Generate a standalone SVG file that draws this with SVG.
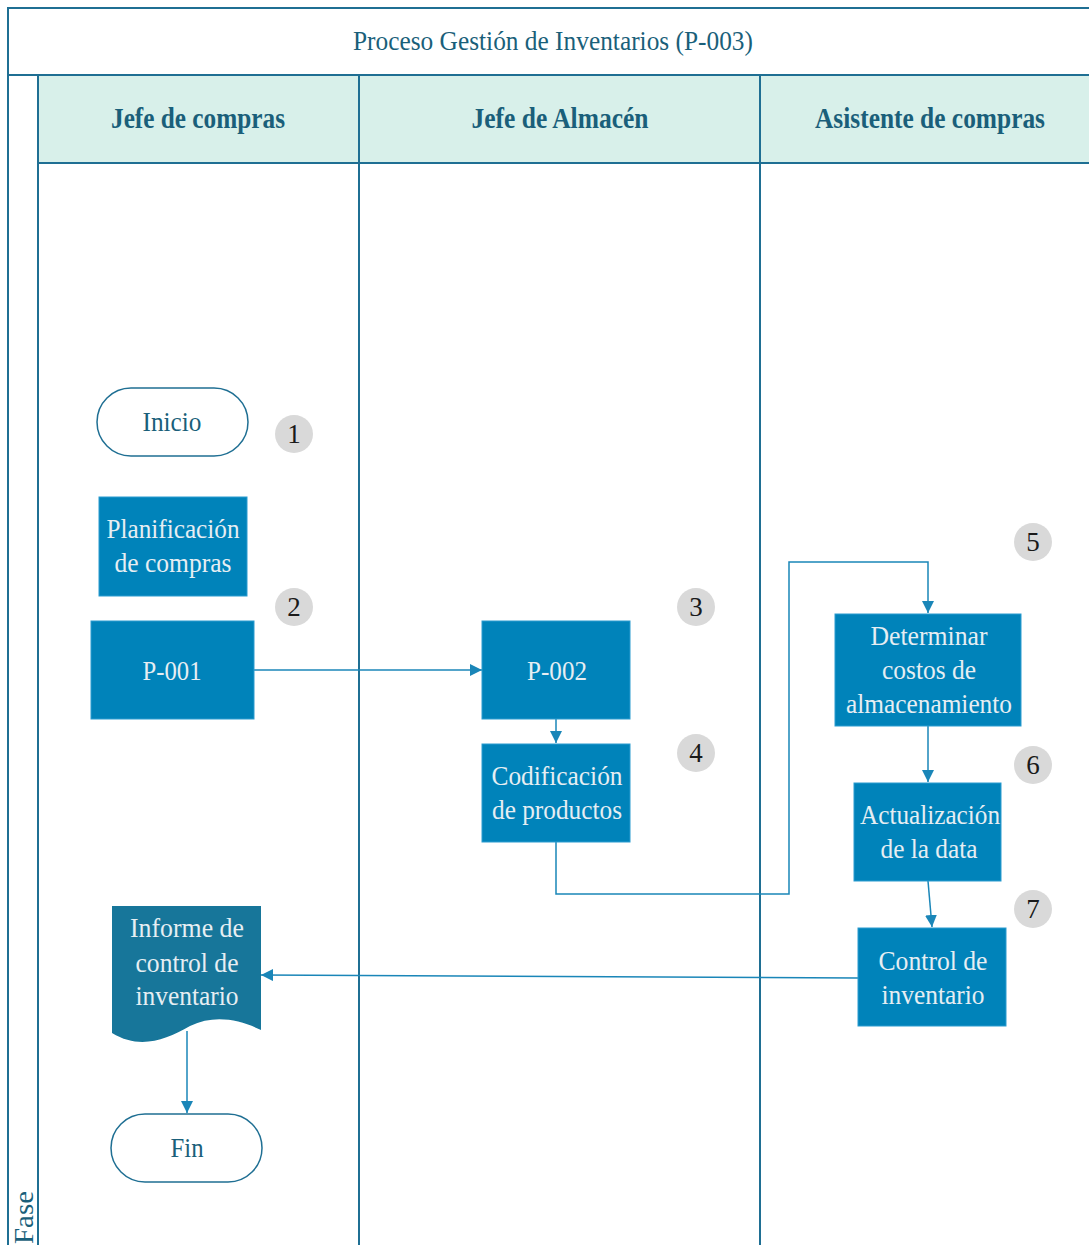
<svg xmlns="http://www.w3.org/2000/svg" width="1089" height="1245" viewBox="0 0 1089 1245">
  <defs>
    <marker id="arrow" viewBox="0 0 10 10" refX="10" refY="5" markerWidth="12" markerHeight="12" markerUnits="userSpaceOnUse" orient="auto">
      <path d="M0,0 L10,5 L0,10 z" fill="#1a86b8"/>
    </marker>
    <style>
      .frame { fill: none; stroke: #1f6f93; stroke-width: 2; }
      .head { fill: #d8f0ea; stroke: #1f6f93; stroke-width: 2; }
      .title { font-family: "Liberation Serif", serif; font-size: 28px; fill: #1a5f7a; text-anchor: middle; }
      .lane { font-family: "Liberation Serif", serif; font-size: 29px; font-weight: bold; fill: #1a5f7a; text-anchor: middle; }
      .proc { fill: #0083ba; stroke: #2a9bd0; stroke-width: 1; }
      .doc { fill: #17769a; }
      .term { fill: #ffffff; stroke: #1f6f93; stroke-width: 1.5; }
      .ptxt { font-family: "Liberation Serif", serif; font-size: 28px; fill: #e6eef3; text-anchor: middle; }
      .ttxt { font-family: "Liberation Serif", serif; font-size: 28px; fill: #1a5f7a; text-anchor: middle; }
      .badge { fill: #d9d9d9; }
      .btxt { font-family: "Liberation Serif", serif; font-size: 27px; fill: #1a1a1a; text-anchor: middle; }
      .conn { fill: none; stroke: #1a86b8; stroke-width: 1.5; }
    </style>
  </defs>

  <rect width="1089" height="1245" fill="#ffffff"/>

  <!-- Pool frame, title and lanes -->
  <g id="pool">
    <path class="frame" d="M8,1245 V8 H1089"/>
    <line class="frame" x1="8" y1="75" x2="1089" y2="75"/>
    <text class="title" x="553" y="50" textLength="400" lengthAdjust="spacingAndGlyphs">Proceso Gestión de Inventarios (P-003)</text>
    <rect class="head" x="38" y="75" width="1060" height="88"/>
    <line class="frame" x1="38" y1="75" x2="38" y2="1245"/>
    <line class="frame" x1="359" y1="75" x2="359" y2="1245"/>
    <line class="frame" x1="760" y1="75" x2="760" y2="1245"/>
    <text class="lane" x="198" y="128" textLength="174" lengthAdjust="spacingAndGlyphs">Jefe de compras</text>
    <text class="lane" x="560" y="128" textLength="177" lengthAdjust="spacingAndGlyphs">Jefe de Almacén</text>
    <text class="lane" x="930" y="128" textLength="230" lengthAdjust="spacingAndGlyphs">Asistente de compras</text>
    <text class="title" transform="translate(33,1244) rotate(-90)" style="text-anchor:start" textLength="53" lengthAdjust="spacingAndGlyphs">Fase</text>
  </g>

  <!-- Connectors -->
  <g id="connectors">
    <line class="conn" x1="254" y1="670" x2="482" y2="670" marker-end="url(#arrow)"/>
    <line class="conn" x1="556" y1="719" x2="556" y2="743" marker-end="url(#arrow)"/>
    <polyline class="conn" points="556,842 556,894 789,894 789,562 928,562 928,613" marker-end="url(#arrow)"/>
    <line class="conn" x1="928" y1="726" x2="928" y2="782" marker-end="url(#arrow)"/>
    <line class="conn" x1="928" y1="881" x2="932" y2="927" marker-end="url(#arrow)"/>
    <line class="conn" x1="858" y1="978" x2="261" y2="975" marker-end="url(#arrow)"/>
    <line class="conn" x1="187" y1="1031" x2="187" y2="1113" marker-end="url(#arrow)"/>
  </g>

  <!-- Nodes -->
  <g id="inicio">
    <rect class="term" x="97" y="388" width="151" height="68" rx="34"/>
    <text class="ttxt" x="172" y="431" textLength="59" lengthAdjust="spacingAndGlyphs">Inicio</text>
  </g>
  <g id="badge1"><circle class="badge" cx="294" cy="434" r="19"/><text class="btxt" x="294" y="443">1</text></g>

  <g id="planificacion">
    <rect class="proc" x="99" y="497" width="148" height="99"/>
    <text class="ptxt" x="173" y="538" textLength="133" lengthAdjust="spacingAndGlyphs">Planificación</text>
    <text class="ptxt" x="173" y="572" textLength="117" lengthAdjust="spacingAndGlyphs">de compras</text>
  </g>
  <g id="badge2"><circle class="badge" cx="294" cy="607" r="19"/><text class="btxt" x="294" y="616">2</text></g>

  <g id="p001">
    <rect class="proc" x="91" y="621" width="163" height="98"/>
    <text class="ptxt" x="172" y="680" textLength="59" lengthAdjust="spacingAndGlyphs">P-001</text>
  </g>

  <g id="p002">
    <rect class="proc" x="482" y="621" width="148" height="98"/>
    <text class="ptxt" x="557" y="680" textLength="60" lengthAdjust="spacingAndGlyphs">P-002</text>
  </g>
  <g id="badge3"><circle class="badge" cx="696" cy="607" r="19"/><text class="btxt" x="696" y="616">3</text></g>

  <g id="codificacion">
    <rect class="proc" x="482" y="744" width="148" height="98"/>
    <text class="ptxt" x="557" y="785" textLength="131" lengthAdjust="spacingAndGlyphs">Codificación</text>
    <text class="ptxt" x="557" y="819" textLength="130" lengthAdjust="spacingAndGlyphs">de productos</text>
  </g>
  <g id="badge4"><circle class="badge" cx="696" cy="753" r="19"/><text class="btxt" x="696" y="762">4</text></g>

  <g id="badge5"><circle class="badge" cx="1033" cy="542" r="19"/><text class="btxt" x="1033" y="551">5</text></g>
  <g id="determinar">
    <rect class="proc" x="835" y="614" width="186" height="112"/>
    <text class="ptxt" x="929" y="645" textLength="117" lengthAdjust="spacingAndGlyphs">Determinar</text>
    <text class="ptxt" x="929" y="679" textLength="94" lengthAdjust="spacingAndGlyphs">costos de</text>
    <text class="ptxt" x="929" y="713" textLength="166" lengthAdjust="spacingAndGlyphs">almacenamiento</text>
  </g>

  <g id="badge6"><circle class="badge" cx="1033" cy="765" r="19"/><text class="btxt" x="1033" y="774">6</text></g>
  <g id="actualizacion">
    <rect class="proc" x="854" y="783" width="147" height="98"/>
    <text class="ptxt" x="930" y="824" textLength="140" lengthAdjust="spacingAndGlyphs">Actualización</text>
    <text class="ptxt" x="929" y="858" textLength="97" lengthAdjust="spacingAndGlyphs">de la data</text>
  </g>

  <g id="badge7"><circle class="badge" cx="1033" cy="909" r="19"/><text class="btxt" x="1033" y="918">7</text></g>
  <g id="control">
    <rect class="proc" x="858" y="928" width="148" height="98"/>
    <text class="ptxt" x="933" y="970" textLength="109" lengthAdjust="spacingAndGlyphs">Control de</text>
    <text class="ptxt" x="933" y="1004" textLength="103" lengthAdjust="spacingAndGlyphs">inventario</text>
  </g>

  <g id="informe">
    <path class="doc" d="M112,906 H261 V1030 C240,1020 215,1014 190,1026 C165,1040 140,1050 112,1033 Z"/>
    <text class="ptxt" x="187" y="937" textLength="114" lengthAdjust="spacingAndGlyphs">Informe de</text>
    <text class="ptxt" x="187" y="972" textLength="103" lengthAdjust="spacingAndGlyphs">control de</text>
    <text class="ptxt" x="187" y="1005" textLength="103" lengthAdjust="spacingAndGlyphs">inventario</text>
  </g>

  <g id="fin">
    <rect class="term" x="111" y="1114" width="151" height="68" rx="34"/>
    <text class="ttxt" x="187" y="1157" textLength="33" lengthAdjust="spacingAndGlyphs">Fin</text>
  </g>
</svg>
